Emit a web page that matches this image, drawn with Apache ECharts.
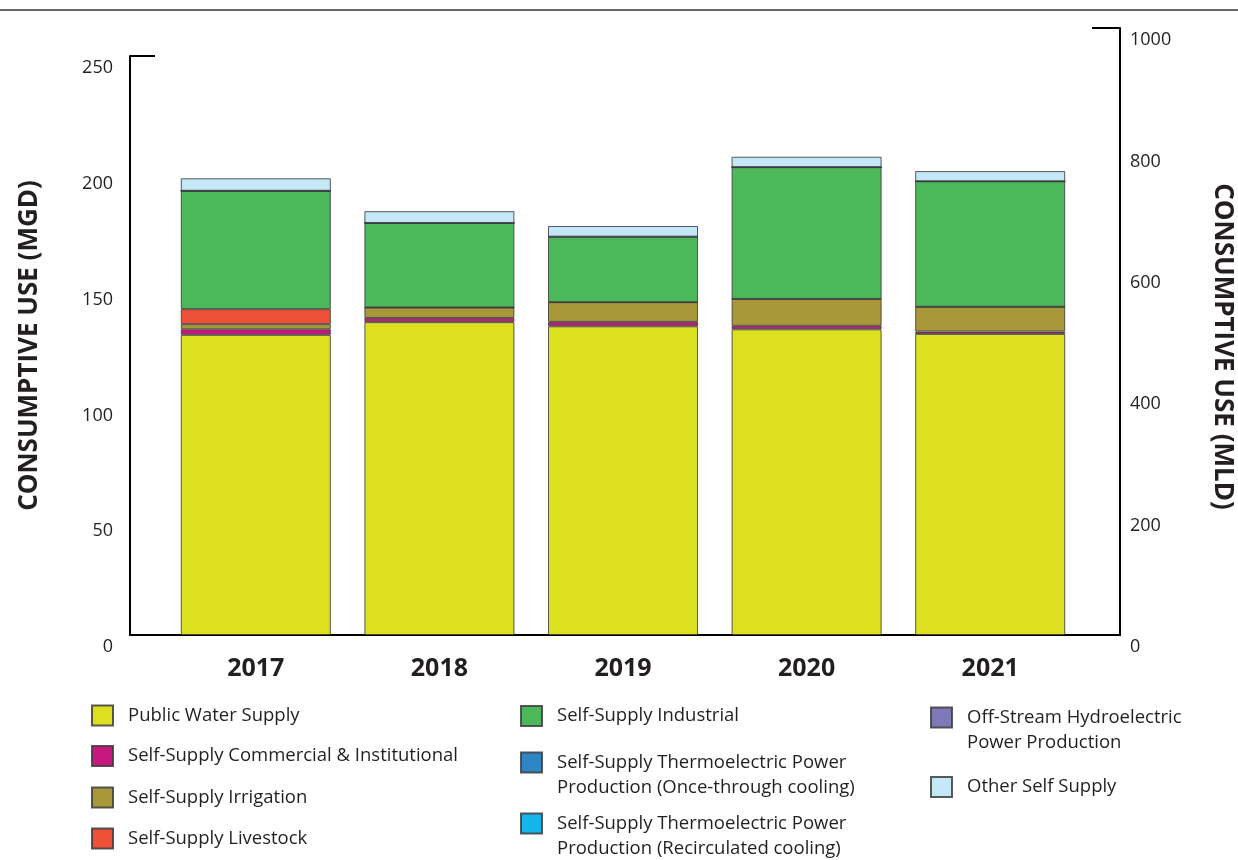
<!DOCTYPE html>
<html>
<head>
<meta charset="utf-8">
<script src="https://cdn.jsdelivr.net/npm/echarts@6/dist/echarts.min.js"></script>
<style>
  html, body { margin: 0; padding: 0; background: #fff; }
  #main { width: 1238px; height: 860px; }
</style>
</head>
<body>
<div id="main"></div>
<script>
var years = ['2017', '2018', '2019', '2020', '2021'];

// consumptive use, MGD
var publicWater   = [129.6, 135.1, 133.3, 132.0, 130.0];
var commercial    = [2.4, 1.8, 1.9, 1.5, 1.0];
var irrigation    = [2.2, 4.5, 8.5, 11.6, 10.7];
var livestock     = [6.5, 0, 0, 0, 0];
var industrial    = [51.1, 36.5, 28.3, 56.9, 54.2];
var thermoOnce    = [0, 0, 0, 0, 0];
var thermoRecirc  = [0, 0, 0, 0, 0];
var hydro         = [0, 0, 0, 0, 0];
var otherSelf     = [5.4, 5.1, 4.6, 4.5, 4.4];

var names = {
  pws: 'Public Water Supply',
  com: 'Self-Supply Commercial & Institutional',
  irr: 'Self-Supply Irrigation',
  liv: 'Self-Supply Livestock',
  ind: 'Self-Supply Industrial',
  tho: 'Self-Supply Thermoelectric Power\nProduction (Once-through cooling)',
  thr: 'Self-Supply Thermoelectric Power\nProduction (Recirculated cooling)',
  hyd: 'Off-Stream Hydroelectric\nPower Production',
  oth: 'Other Self Supply'
};

var colors = {
  pws: '#dde01e', com: '#c8177f', irr: '#a8983a', liv: '#ee5138',
  ind: '#4bb95a', tho: '#2f86c4', thr: '#14b6ea', hyd: '#8079b8', oth: '#c4e8f8'
};

var stackOrder = [
  ['pws', publicWater], ['com', commercial], ['irr', irrigation], ['liv', livestock],
  ['ind', industrial], ['tho', thermoOnce], ['thr', thermoRecirc], ['hyd', hydro], ['oth', otherSelf]
];

var font = 'Open Sans';
var txt = '#231f20';

var series = stackOrder.map(function (s) {
  return {
    name: names[s[0]],
    type: 'bar',
    stack: 'use',
    xAxisIndex: 0,
    yAxisIndex: 0,
    barWidth: 150,
    itemStyle: {
      color: colors[s[0]],
      borderColor: 'rgba(60,60,60,0.85)',
      borderWidth: 1
    },
    data: s[1]
  };
});

// legend layout: [key, left, top, twoLines]
var legendLayout = [
  ['pws', 91, 703, false], ['com', 91, 743.5, false], ['irr', 91, 785, false], ['liv', 91, 826, false],
  ['ind', 520, 703.5, false], ['tho', 520, 725, true], ['thr', 520, 786, true],
  ['hyd', 930, 680, true], ['oth', 930, 774.5, false]
];
var legends = legendLayout.map(function (l) {
  return {
    data: [names[l[0]]],
    left: l[1],
    top: l[2],
    padding: 0,
    icon: 'rect',
    itemWidth: 21,
    itemHeight: 20,
    selectedMode: false,
    // blank first line puts the icon level with the first text line
    formatter: l[3] ? function (n) { return ' \n' + n; } : '{name}',
    textStyle: {
      fontFamily: font,
      fontSize: 18.5,
      color: txt,
      lineHeight: 25,
      padding: [0, 0, 0, 10]
    }
  };
});

var option = {
  animation: false,
  backgroundColor: '#fff',
  graphic: [{
    type: 'line',
    shape: { x1: 0, y1: 10, x2: 1238, y2: 10 },
    style: { stroke: '#666', lineWidth: 2 }
  }],
  legend: legends,
  grid: [
    { left: 164, right: 156, top: 56, bottom: 225, outerBoundsMode: 'none' },
    { left: 130, right: 118, top: 28, bottom: 225, outerBoundsMode: 'none' }
  ],
  xAxis: [{
    type: 'category',
    gridIndex: 0,
    data: years,
    axisLine: { show: false },
    axisTick: { show: false },
    axisLabel: { fontFamily: font, fontSize: 25, fontWeight: 'bold', color: txt, margin: 21 }
  }, {
    type: 'value',
    gridIndex: 1,
    min: 0, max: 1,
    axisLine: { show: true, onZero: false, lineStyle: { color: '#000', width: 2 } },
    axisTick: { show: false },
    axisLabel: { show: false },
    splitLine: { show: false }
  }],
  yAxis: [{
    type: 'value',
    gridIndex: 0,
    position: 'left',
    offset: 34,
    min: 0, max: 250, interval: 50,
    name: 'CONSUMPTIVE USE (MGD)',
    nameLocation: 'middle',
    nameGap: 87,
    nameTextStyle: { fontFamily: font, fontSize: 26, fontWeight: 'bold', color: txt },
    axisLine: { show: true, onZero: false, lineStyle: { color: '#000', width: 2 } },
    axisTick: { show: true, inside: true, length: 25, customValues: [250], lineStyle: { color: '#000', width: 2 } },
    axisLabel: { fontFamily: font, fontSize: 18, color: txt, margin: 17, verticalAlign: 'top', padding: [3, 0, 0, 0] },
    splitLine: { show: false }
  }, {
    type: 'value',
    gridIndex: 1,
    position: 'right',
    min: 0, max: 1000, interval: 200,
    name: 'CONSUMPTIVE USE (MLD)',
    nameLocation: 'middle',
    nameRotate: -90,
    nameGap: 89,
    nameTextStyle: { fontFamily: font, fontSize: 26, fontWeight: 'bold', color: txt, padding: [0, 0, 0, 30] },
    axisLine: { show: true, onZero: false, lineStyle: { color: '#000', width: 2 } },
    axisTick: { show: true, inside: true, length: 28, customValues: [1000], lineStyle: { color: '#000', width: 2 } },
    axisLabel: {
      fontFamily: font, fontSize: 18, color: txt, margin: 10, verticalAlign: 'top', padding: [3, 0, 0, 0],
      formatter: function (v) { return String(v); }
    },
    splitLine: { show: false }
  }],
  series: series
};

var myChart = echarts.init(document.getElementById('main'));
myChart.setOption(option);
window.addEventListener('resize', function () {
  myChart.resize();
});
</script>
</body>
</html>
